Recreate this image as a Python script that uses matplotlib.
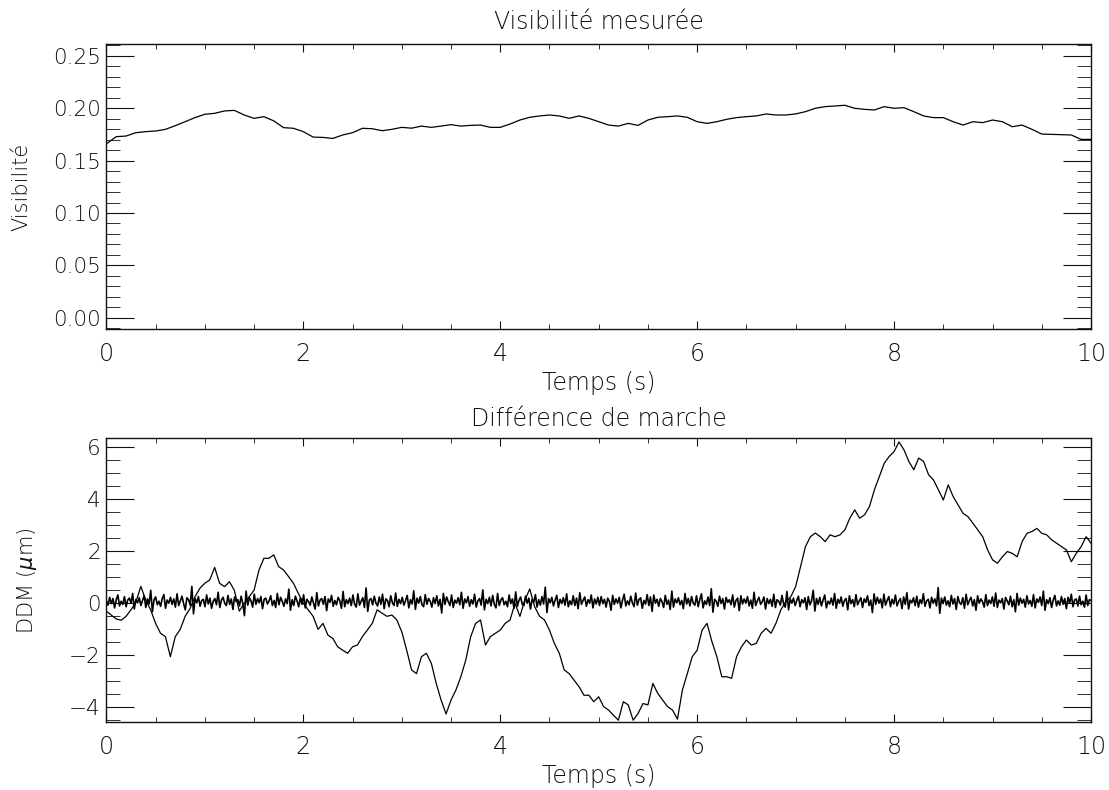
import numpy as np
import matplotlib
matplotlib.use("Agg")
import matplotlib.pyplot as plt
from matplotlib.ticker import MultipleLocator, FormatStrFormatter

plt.rcParams["font.family"] = ["DejaVu Sans"]
plt.rcParams["font.weight"] = "light"
plt.rcParams["axes.titleweight"] = "light"
plt.rcParams["axes.labelweight"] = "light"
plt.rcParams["mathtext.fontset"] = "dejavusans"

# Visibility (top panel), read every 0.1 s
vis_t = np.round(np.arange(0, 10.01, 0.1), 2)
vis = [0.166, 0.1729, 0.1735, 0.1767, 0.1777, 0.1783, 0.1799, 0.1834, 0.1872, 0.1911,
       0.1943, 0.1952, 0.1975, 0.1980, 0.1936, 0.1904, 0.1920, 0.1880, 0.1815, 0.1809,
       0.1777, 0.1725, 0.1722, 0.1712, 0.1745, 0.1767, 0.1809, 0.1805, 0.1786, 0.1799,
       0.1818, 0.1810, 0.1830, 0.1818, 0.1830, 0.1844, 0.1830, 0.1837, 0.1840, 0.1818,
       0.1818, 0.1850, 0.1888, 0.1914, 0.1927, 0.1936, 0.1927, 0.1904, 0.1927, 0.1904,
       0.1872, 0.1840, 0.1830, 0.1856, 0.1837, 0.1888, 0.1914, 0.1920, 0.1927, 0.1914,
       0.1872, 0.1856, 0.1872, 0.1895, 0.1911, 0.1920, 0.1927, 0.1946, 0.1936, 0.1936,
       0.1946, 0.1968, 0.2000, 0.2016, 0.2022, 0.2029, 0.2000, 0.1990, 0.1984, 0.2016,
       0.2000, 0.2006, 0.1968, 0.1927, 0.1911, 0.1911, 0.1872, 0.1840, 0.1872, 0.1863,
       0.1888, 0.1872, 0.1824, 0.1840, 0.1799, 0.1754, 0.1751, 0.1748, 0.1745, 0.1703,
       0.1703]

# Path difference random walk (bottom panel), read every 0.05 s
ddm_t = np.round(np.arange(0, 10.001, 0.05), 2)
ddm = [-0.30, -0.45, -0.60, -0.65, -0.50, -0.25, 0.05, 0.65, 0.13,
       -0.25, -0.77, -1.15, -1.28, -2.05, -1.28, -1.00, -0.50, -0.20, 0.25,
       0.58, 0.77, 0.90, 1.38, 0.77, 0.64, 0.83, 0.50, -0.30,
       0.00, 0.25, 0.50, 1.28, 1.73, 1.73, 1.86, 1.41, 1.28, 1.03,
       0.77, 0.38, 0.00, -0.25, -0.50, -1.00, -0.77, -1.22, -1.35, -1.67,
       -1.80, -1.92, -1.67, -1.60, -1.28, -1.03, -0.77, -0.25, -0.38, -0.50,
       -0.45, -0.64, -1.09, -1.80, -2.56, -2.70, -2.05, -1.92, -2.30, -3.08,
       -3.72, -4.25, -3.72, -3.33, -2.82, -2.18, -1.28, -0.77, -0.64, -1.60,
       -1.28, -1.15, -1.03, -0.77, -0.64, 0.00, -0.50, 0.13, 0.55, -0.13,
       -0.50, -0.64, -1.03, -1.54, -1.92, -2.56, -2.70, -2.95, -3.20, -3.53,
       -3.53, -3.78, -3.59, -3.97, -4.10, -4.30, -4.49, -3.78, -3.90, -4.49,
       -4.23, -3.85, -3.90, -3.08, -3.46, -3.72, -3.97, -4.10, -4.45, -3.33,
       -2.70, -2.05, -1.80, -1.03, -0.77, -1.47, -2.05, -2.82, -2.82, -2.88,
       -2.05, -1.67, -1.41, -1.60, -1.54, -1.15, -0.96, -1.15, -0.77, -0.25,
       0.06, 0.25, 0.64, 1.41, 2.18, 2.56, 2.70, 2.56, 2.37, 2.63,
       2.56, 2.63, 2.82, 3.27, 3.59, 3.27, 3.40, 3.72, 4.36, 4.87,
       5.38, 5.64, 5.83, 6.20, 5.90, 5.45, 5.13, 5.58, 5.45, 4.94,
       4.74, 4.36, 3.97, 4.55, 4.10, 3.78, 3.46, 3.33, 3.08, 2.82,
       2.56, 2.05, 1.67, 1.54, 1.79, 1.99, 1.92, 1.79, 2.37, 2.69,
       2.76, 2.88, 2.69, 2.63, 2.44, 2.31, 2.18, 2.05, 1.60, 1.92,
       2.18, 2.56, 2.31]

# residual after correction (noise band around zero), in steps of 0.015 micron
res_level = 0.05
res_unit = 0.015
res = [3, -8, 12, -4, 9, -15, 6, 18, -10, 2, -6, 14, -12, 5, 10, -3, 22, -18, 7, -2,
       11, -9, 4, 16, -14, 8, -5, 30, -25, 6, 13, -7, 2, -11, 9, 19, -16, 5, -3, 12,
       -6, 8, -13, 21, -9, 3, 15, -4, -20, 11, 6, -8, 40, -30, 9, -2, 14, -11, 4, 7,
       -12, 18, -5, 10, -16, 2, 9, -7, 25, -14, 5, 12, -3, -9, 17, -6, 8, -19, 13, 1,
       6, -10, 15, -4, -35, 28, -8, 11, 3, -13, 20, -6, 9, -2, 14, -17, 7, 10, -5, 3,
       16, -9, 4, -14, 22, -7, 12, 2, -11, 8, -4, 33, -21, 6, -9, 15, 3, -12, 10, -6,
       19, -15, 7, 1, -8, 13, -3, -18, 24, -10, 5, 9, -6, 14, -22, 8, -1, 17, -11, 4,
       -7, 12, 3, -16, 27, -12, 6, -4, 10, -9, 18, -5, -13, 21, -8, 2, 11, -14, 36, -24,
       5, 9, -7, 15, -3, -10, 13, -6, 20, -17, 8, 4, -12, 16, -2, -9, 23, -11, 7, -4,
       12, -8, 3, 17, -15, 6, -5, 29, -19, 10, -3, 14, -7, -12, 19, -6, 9, 2, -13, 11,
       -4, 16, -10, 7, -28, 22, -6, 13, 1, -9, 18, -14, 5, -3, 11, -7, 25, -16, 8, -2,
       14, -11, 6, -5, 20, -13, 3, 9, -8, 31, -20, 7, -4, 12, -10, 17, -6, -15, 22, -9,
       5, 11, -7, 2, -12, 18, -4, 8, -16, 26, -11, 4, 13, -6, -9, 15, -3, 10, -18, 7,
       -1, 19, -13, 6, -8, 14, -5, 38, -27, 9, -2, 12, -10, 5, 17, -14, 7, -4, 11, -8,
       21, -12, 3, -7, 16, -9, 10, -17, 24, -6, 4, 13, -11, 6, -3, 18, -15, 8, -5, 12,
       -9, 14, -4, 7, -13, 10, 2, -21, 17, -6, 8, -3, 12, -15, 5, 20, -10, 3, -7, 15,
       -2, -12, 23, -8, 6, 11, -16, 4, -5, 19, -9, 13, -24, 18, -3, 7, -11, 9, 1, -14,
       17, -6, 5, -19, 28, -13, 8, -2, 11, -7, 4, -17, 22, -5, 9, -10, 14, -3, -8, 16,
       -12, 6, 21, -15, 3, -6, 13, -9, 34, -26, 7, 2, -11, 15, -4, 9, -18, 12, -1, 6,
       -7, 18, -13, 4, 10, -22, 16, -5, 8, -3, 14, -10, 5, -16, 25, -9, 3, 12, -6, 1,
       13, -18, 9, -4, 7, -11, 20, -14, 6, 2, -8, 17, -5, -13, 27, -20, 8, -3, 10, -9,
       4, 15, -12, 6, -2, 11, -19, 14, -7, 3, 30, -23, 9, -6, 12, -10, 5, 18, -15, 2,
       -5, 10, -8, 22, -16, 7, -3, 13, -11, 4, 9, -20, 16, -4, 6, -12, 19, -7, 3, 11,
       -14, 8, -1, 16, -9, 5, -27, 21, -6, 12, -3, 8, -15, 20, -8, 4, 14, -12, 7, -5,
       18, -10, 2, 9, -17, 13, -6, 24, -18, 5, -2, 11, -9, 15, -13, 6, -4, 21, -11, 3,
       7, -15, 12, -3, 8, -10, 37, -29, 10, -4, 13, -8, 3, -12, 17, -5, 9, -19, 14, -2,
       -6, 11, -16, 20, -7, 4, 12, -10, 6, -21, 16, -3, 8, 1, -13, 19, -9, 5, -4, 13,
       -11, 23, -14, 5, -2, 9, -18, 12, 3, -7, 15, -12, 6, -25, 22, -8, 10, -3, 7, -13,
       16, -5, 4, -11, 19, -15, 8, -1, 13, -9, 28, -21, 6, -4, 11, -14, 5, 17, -10, 3,
       -8, 14, -6, 9, -17, 12, -3, 20, -12, 5, 8, -10, 15, -7, 2, -13, 18, -9, 6, 4]
res_t = np.linspace(0, 10, len(res))
res_val = res_level + np.array(res) * res_unit

fig = plt.figure(figsize=(11.09, 7.90), dpi=100)
ax1 = fig.add_axes([0.0959, 0.5832, 0.8879, 0.3608])
ax2 = fig.add_axes([0.0959, 0.0857, 0.8879, 0.3595])

ink = "#111111"


def style(ax):
    ax.set_xlim(0, 10)
    ax.xaxis.set_major_locator(MultipleLocator(2))
    ax.xaxis.set_minor_locator(MultipleLocator(0.5))
    ax.tick_params(axis="x", which="major", direction="in", length=6, top=True,
                   labelsize=17, pad=9, color=ink, labelcolor=ink)
    ax.tick_params(axis="x", which="minor", direction="in", length=3.5, top=True, color=ink)
    ax.tick_params(axis="y", which="major", direction="in", length=20, right=True,
                   labelsize=15.5, pad=4, color=ink, labelcolor=ink)
    ax.tick_params(axis="y", which="minor", direction="in", length=10, right=True, color=ink)
    for s in ax.spines.values():
        s.set_linewidth(1.0)
        s.set_color(ink)
    ax.set_xlabel("Temps (s)", fontsize=17, color=ink, labelpad=4)


ax1.plot(vis_t, vis, color="black", lw=0.9)
style(ax1)
ax1.set_ylim(-0.0111, 0.2612)
ax1.yaxis.set_major_locator(MultipleLocator(0.05))
ax1.yaxis.set_minor_locator(MultipleLocator(0.01))
ax1.yaxis.set_major_formatter(FormatStrFormatter("%.2f"))
ax1.set_title("Visibilité mesurée", fontsize=17, color=ink, pad=11)
ax1.set_ylabel("Visibilité", fontsize=15, color=ink)
ax1.yaxis.set_label_coords(-0.076, 0.5)

ax2.plot(res_t, res_val, color="black", lw=1.2)
ax2.plot(ddm_t, ddm, color="black", lw=0.9)
style(ax2)
ax2.set_ylim(-4.57, 6.34)
ax2.yaxis.set_major_locator(MultipleLocator(2))
ax2.yaxis.set_minor_locator(MultipleLocator(0.5))
ax2.set_title("Différence de marche", fontsize=17, color=ink, pad=9)
ax2.set_ylabel("DDM ($\\mu$m)", fontsize=15, color=ink)
ax2.yaxis.set_label_coords(-0.068, 0.5)

fig.savefig("out.png", dpi=100)
